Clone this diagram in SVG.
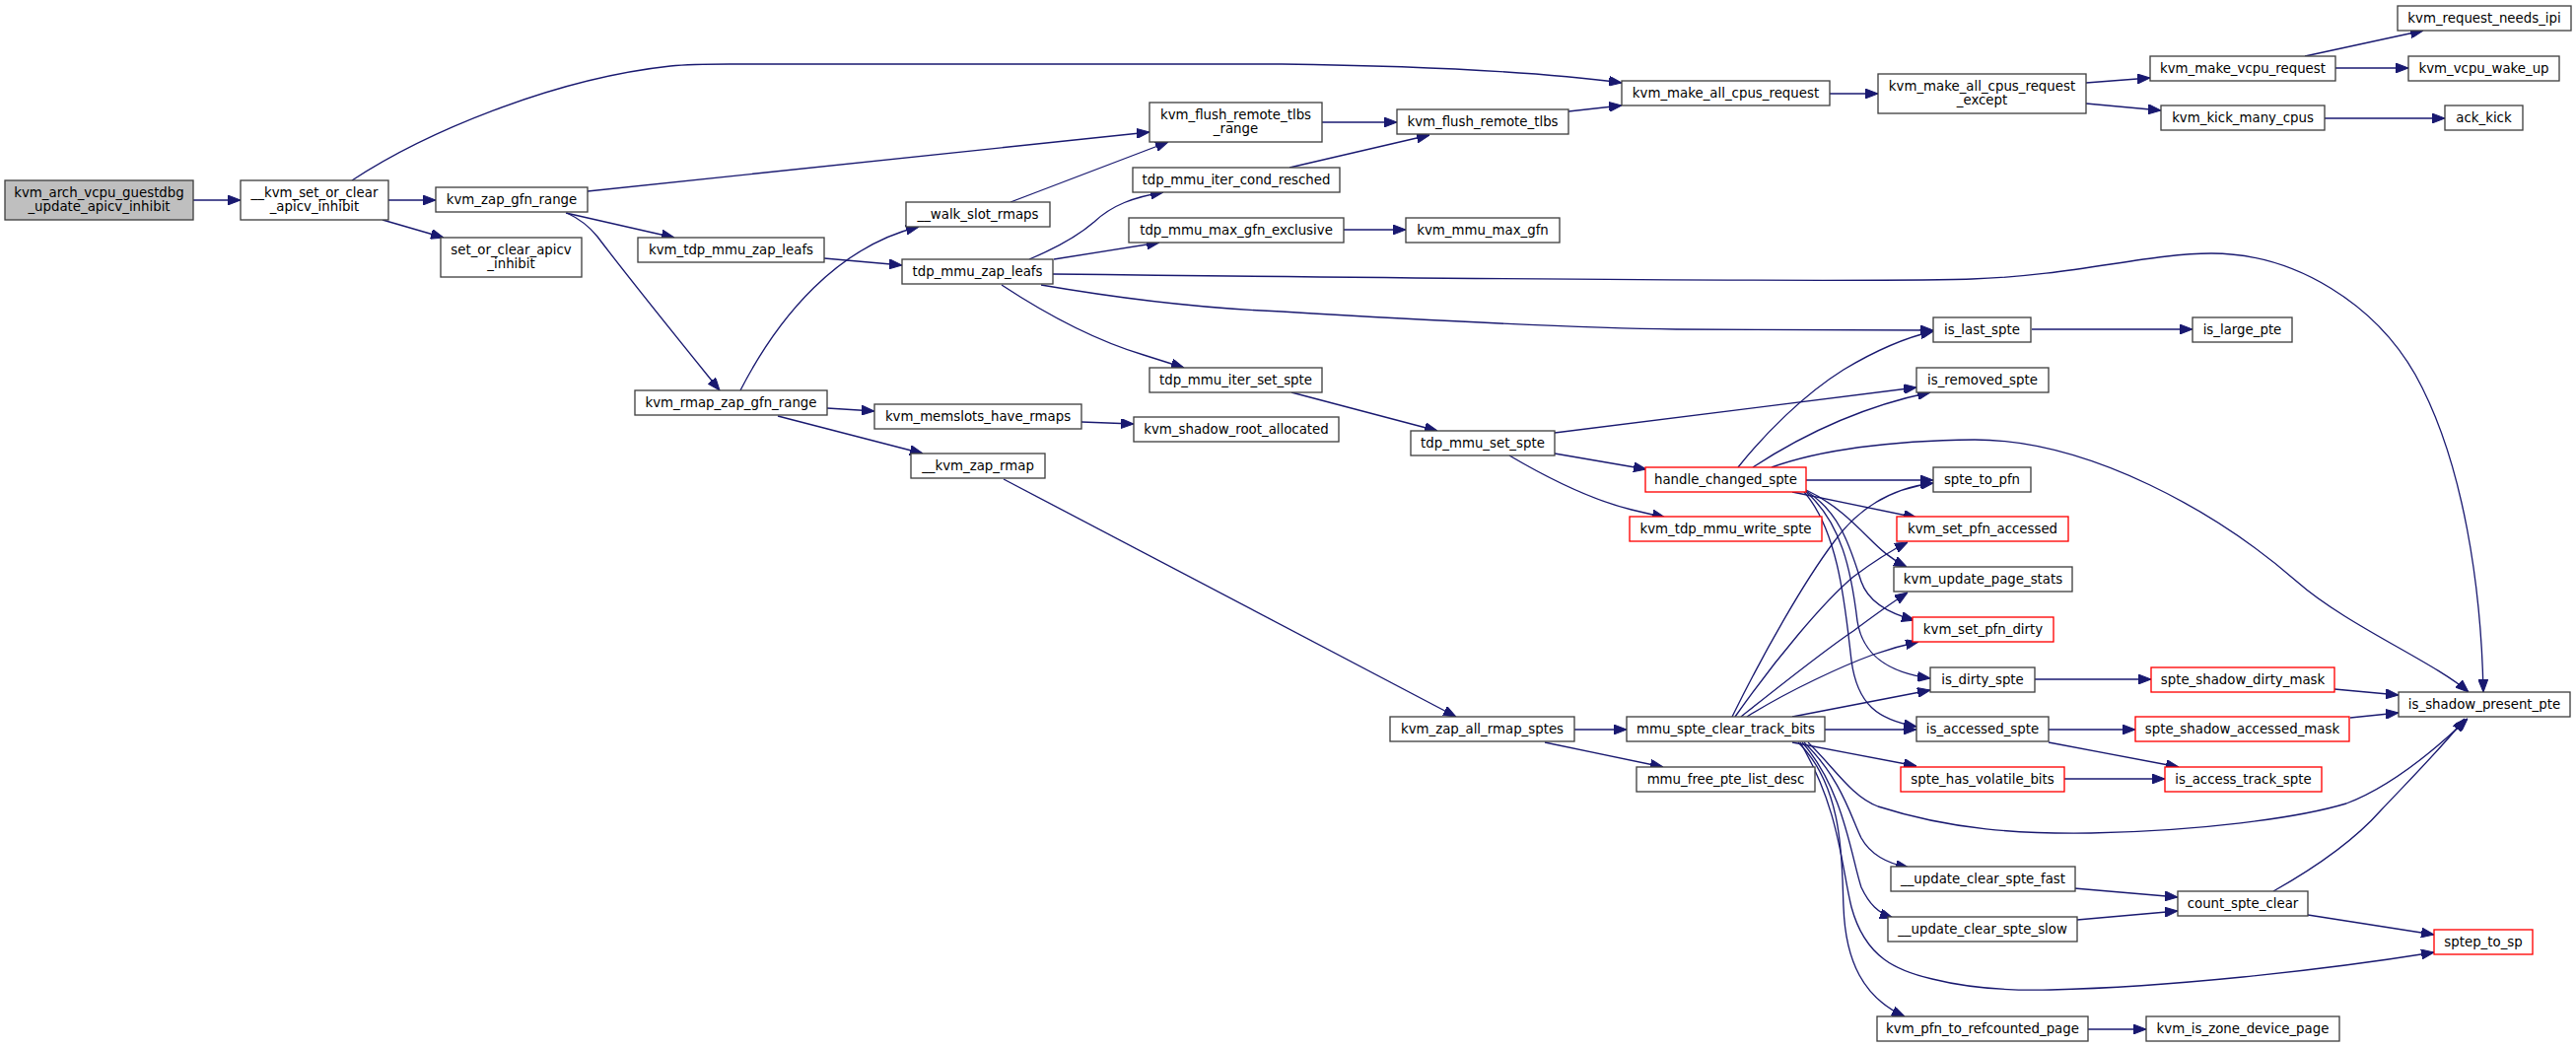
<svg xmlns="http://www.w3.org/2000/svg" width="2613" height="1063" viewBox="0 0 2613 1063">
<style>
.node rect{fill:#ffffff;stroke:#404040;stroke-width:1.33}
.node.red rect{stroke:#ff0000}
.node.root rect{fill:#bfbfbf}
.node text{font-family:"DejaVu Sans","Liberation Sans",sans-serif;font-size:13.33px;fill:#000;text-anchor:middle}
.edges path{fill:none;stroke:#191970;stroke-width:1.33;marker-end:url(#ah)}
</style>
<defs>
<marker id="ah" markerUnits="userSpaceOnUse" markerWidth="13" markerHeight="10" viewBox="0 0 13 10" refX="13" refY="5" orient="auto">
<path d="M0,0 L13,5 L0,10 z" fill="#191970" stroke="#191970" stroke-width="1"/>
</marker>
</defs>
<rect width="2613" height="1063" fill="#ffffff"/>
<g class="edges" id="edges">
<path d="M196,203 L244,203"/>
<path d="M357,183 C430,135 560,80 680,67 C700,65 720,65 740,65 L1300,65 C1450,67 1570,74 1645,84"/>
<path d="M394,203 L442,203"/>
<path d="M388,223 L450,241"/>
<path d="M596,194 L1166,134"/>
<path d="M574,216 L684,241"/>
<path d="M575,216 C588,222 598,230 606,240 C640,285 705,365 730,396"/>
<path d="M836,262 L915,269"/>
<path d="M751,396 C790,320 850,250 932,230"/>
<path d="M839,414 L887,417"/>
<path d="M789,422 L936,460"/>
<path d="M1025,205 L1185,144"/>
<path d="M1044,263 C1075,250 1095,238 1110,225 C1128,208 1150,200 1180,195"/>
<path d="M1069,263 L1176,246"/>
<path d="M1068,278 C1500,283 1900,286 2000,283 C2100,280 2180,257 2243,257 C2330,257 2410,310 2450,380 C2500,470 2517,600 2519,702"/>
<path d="M1056,289 C1120,300 1200,312 1300,316 C1450,325 1600,333 1700,334 L1961,335"/>
<path d="M1016,289 C1060,318 1110,345 1160,360 L1201,373"/>
<path d="M1097,428 L1150,430"/>
<path d="M1018,486 L1477,727"/>
<path d="M1341,124 L1417,124"/>
<path d="M1308,170 L1450,137"/>
<path d="M1363,233 L1426,233"/>
<path d="M1310,398 L1458,437"/>
<path d="M1591,113 L1645,107"/>
<path d="M1577,439 L1944,393"/>
<path d="M1577,460 L1670,476"/>
<path d="M1531,462 C1565,482 1610,506 1655,517 L1689,525"/>
<path d="M1856,95 L1905,95"/>
<path d="M1763,474 C1790,440 1830,400 1870,375 C1900,357 1930,343 1961,336"/>
<path d="M1778,474 C1830,440 1890,412 1958,398"/>
<path d="M1797,474 C1850,455 1920,447 2003,446 C2120,446 2250,520 2330,590 C2380,634 2470,672 2504,702"/>
<path d="M1832,487 L1961,487"/>
<path d="M1818,499 L1944,525"/>
<path d="M1832,497 C1860,510 1880,530 1895,545 C1908,558 1918,567 1934,575"/>
<path d="M1832,498 C1868,520 1878,560 1888,590 C1895,610 1915,622 1942,629"/>
<path d="M1832,499 C1868,530 1878,580 1884,630 C1890,668 1920,683 1958,688"/>
<path d="M1830,499 C1866,540 1872,620 1878,670 C1884,715 1905,730 1944,737"/>
<path d="M1757,727 C1790,660 1830,590 1860,550 C1885,515 1920,495 1961,490"/>
<path d="M1760,727 C1800,670 1850,610 1880,585 C1900,570 1915,560 1935,550"/>
<path d="M1766,727 C1800,700 1850,660 1880,640 C1900,625 1918,612 1935,601"/>
<path d="M1772,727 C1815,700 1870,675 1900,664 C1920,657 1932,654 1946,651"/>
<path d="M1818,727 L1958,700"/>
<path d="M1851,740 L1944,740"/>
<path d="M1818,753 L1944,777"/>
<path d="M1834,753 C1860,778 1878,808 1905,818 C1980,842 2050,846 2121,845 C2230,843 2330,830 2380,815 C2420,800 2460,770 2503,729"/>
<path d="M1830,753 C1868,790 1878,830 1888,850 C1898,868 1915,876 1936,880"/>
<path d="M1828,753 C1870,800 1878,870 1888,900 C1896,917 1905,926 1920,931"/>
<path d="M1826,753 C1866,820 1868,880 1878,920 C1892,972 1925,985 1960,993 C2000,1003 2040,1005 2080,1004 C2200,1001 2350,985 2469,966"/>
<path d="M1824,753 C1872,800 1868,880 1870,920 C1872,975 1890,1012 1932,1031"/>
<path d="M2078,740 L2166,740"/>
<path d="M2078,753 L2210,778"/>
<path d="M2094,790 L2196,790"/>
<path d="M2384,728 L2433,723"/>
<path d="M2368,699 L2433,705"/>
<path d="M2064,689 L2182,689"/>
<path d="M2104,901 L2209,910"/>
<path d="M2107,933 L2209,924"/>
<path d="M2341,928 L2469,948"/>
<path d="M2306,904 C2345,882 2385,856 2415,822 C2450,785 2480,755 2500,729"/>
<path d="M2118,1044 L2177,1044"/>
<path d="M1597,740 L1650,740"/>
<path d="M1567,753 L1687,778"/>
<path d="M2116,84 L2181,79"/>
<path d="M2116,105 L2192,112"/>
<path d="M2338,57 L2458,31"/>
<path d="M2369,69 L2443,69"/>
<path d="M2358,120 L2480,120"/>
<path d="M2061,334 L2224,334"/>
</g>
<g id="n1" class="node root"><rect x="5" y="183" width="191" height="40"/><text x="100.5" y="199.5">kvm_arch_vcpu_guestdbg</text><text x="100.5" y="213.5">_update_apicv_inhibit</text></g>
<g id="n2" class="node"><rect x="244" y="183" width="150" height="40"/><text x="319" y="199.5">__kvm_set_or_clear</text><text x="319" y="213.5">_apicv_inhibit</text></g>
<g id="n3" class="node"><rect x="442" y="190" width="154" height="25"/><text x="519" y="207">kvm_zap_gfn_range</text></g>
<g id="n4" class="node"><rect x="447" y="241" width="143" height="40"/><text x="518.5" y="257.5">set_or_clear_apicv</text><text x="518.5" y="271.5">_inhibit</text></g>
<g id="n5" class="node"><rect x="647" y="241" width="189" height="25"/><text x="741.5" y="258">kvm_tdp_mmu_zap_leafs</text></g>
<g id="n6" class="node"><rect x="644" y="396" width="195" height="25"/><text x="741.5" y="413">kvm_rmap_zap_gfn_range</text></g>
<g id="n7" class="node"><rect x="919" y="205" width="146" height="25"/><text x="992" y="222">__walk_slot_rmaps</text></g>
<g id="n8" class="node"><rect x="915" y="263" width="153" height="25"/><text x="991.5" y="280">tdp_mmu_zap_leafs</text></g>
<g id="n9" class="node"><rect x="887" y="410" width="210" height="25"/><text x="992" y="427">kvm_memslots_have_rmaps</text></g>
<g id="n10" class="node"><rect x="924" y="460" width="136" height="25"/><text x="992" y="477">__kvm_zap_rmap</text></g>
<g id="n11" class="node"><rect x="1166" y="104" width="175" height="40"/><text x="1253.5" y="120.5">kvm_flush_remote_tlbs</text><text x="1253.5" y="134.5">_range</text></g>
<g id="n12" class="node"><rect x="1149" y="170" width="210" height="25"/><text x="1254" y="187">tdp_mmu_iter_cond_resched</text></g>
<g id="n13" class="node"><rect x="1145" y="221" width="218" height="25"/><text x="1254" y="238">tdp_mmu_max_gfn_exclusive</text></g>
<g id="n14" class="node"><rect x="1166" y="373" width="175" height="25"/><text x="1253.5" y="390">tdp_mmu_iter_set_spte</text></g>
<g id="n15" class="node"><rect x="1150" y="423" width="208" height="25"/><text x="1254" y="440">kvm_shadow_root_allocated</text></g>
<g id="n16" class="node"><rect x="1417" y="111" width="174" height="25"/><text x="1504" y="128">kvm_flush_remote_tlbs</text></g>
<g id="n17" class="node"><rect x="1426" y="221" width="156" height="25"/><text x="1504" y="238">kvm_mmu_max_gfn</text></g>
<g id="n18" class="node"><rect x="1431" y="437" width="146" height="25"/><text x="1504" y="454">tdp_mmu_set_spte</text></g>
<g id="n19" class="node"><rect x="1410" y="727" width="187" height="25"/><text x="1503.5" y="744">kvm_zap_all_rmap_sptes</text></g>
<g id="n20" class="node"><rect x="1645" y="82" width="211" height="25"/><text x="1750.5" y="99">kvm_make_all_cpus_request</text></g>
<g id="n21" class="node red"><rect x="1669" y="474" width="163" height="25"/><text x="1750.5" y="491">handle_changed_spte</text></g>
<g id="n22" class="node red"><rect x="1653" y="524" width="195" height="25"/><text x="1750.5" y="541">kvm_tdp_mmu_write_spte</text></g>
<g id="n23" class="node"><rect x="1650" y="727" width="201" height="25"/><text x="1750.5" y="744">mmu_spte_clear_track_bits</text></g>
<g id="n24" class="node"><rect x="1660" y="778" width="181" height="25"/><text x="1750.5" y="795">mmu_free_pte_list_desc</text></g>
<g id="n25" class="node"><rect x="1905" y="75" width="211" height="40"/><text x="2010.5" y="91.5">kvm_make_all_cpus_request</text><text x="2010.5" y="105.5">_except</text></g>
<g id="n26" class="node"><rect x="1961" y="322" width="99" height="25"/><text x="2010.5" y="339">is_last_spte</text></g>
<g id="n27" class="node"><rect x="1944" y="373" width="134" height="25"/><text x="2011" y="390">is_removed_spte</text></g>
<g id="n28" class="node"><rect x="1961" y="474" width="99" height="25"/><text x="2010.5" y="491">spte_to_pfn</text></g>
<g id="n29" class="node red"><rect x="1924" y="524" width="174" height="25"/><text x="2011" y="541">kvm_set_pfn_accessed</text></g>
<g id="n30" class="node"><rect x="1921" y="575" width="181" height="25"/><text x="2011.5" y="592">kvm_update_page_stats</text></g>
<g id="n31" class="node red"><rect x="1940" y="626" width="143" height="25"/><text x="2011.5" y="643">kvm_set_pfn_dirty</text></g>
<g id="n32" class="node"><rect x="1958" y="677" width="106" height="25"/><text x="2011" y="694">is_dirty_spte</text></g>
<g id="n33" class="node"><rect x="1944" y="727" width="134" height="25"/><text x="2011" y="744">is_accessed_spte</text></g>
<g id="n34" class="node red"><rect x="1928" y="778" width="166" height="25"/><text x="2011" y="795">spte_has_volatile_bits</text></g>
<g id="n35" class="node"><rect x="1918" y="879" width="187" height="25"/><text x="2011.5" y="896">__update_clear_spte_fast</text></g>
<g id="n36" class="node"><rect x="1915" y="930" width="192" height="25"/><text x="2011" y="947">__update_clear_spte_slow</text></g>
<g id="n37" class="node"><rect x="1904" y="1031" width="214" height="25"/><text x="2011" y="1048">kvm_pfn_to_refcounted_page</text></g>
<g id="n38" class="node"><rect x="2181" y="57" width="188" height="25"/><text x="2275" y="74">kvm_make_vcpu_request</text></g>
<g id="n39" class="node"><rect x="2192" y="107" width="166" height="25"/><text x="2275" y="124">kvm_kick_many_cpus</text></g>
<g id="n40" class="node"><rect x="2224" y="322" width="101" height="25"/><text x="2274.5" y="339">is_large_pte</text></g>
<g id="n41" class="node red"><rect x="2182" y="677" width="186" height="25"/><text x="2275" y="694">spte_shadow_dirty_mask</text></g>
<g id="n42" class="node red"><rect x="2166" y="727" width="217" height="25"/><text x="2274.5" y="744">spte_shadow_accessed_mask</text></g>
<g id="n43" class="node red"><rect x="2196" y="778" width="159" height="25"/><text x="2275.5" y="795">is_access_track_spte</text></g>
<g id="n44" class="node"><rect x="2209" y="904" width="132" height="25"/><text x="2275" y="921">count_spte_clear</text></g>
<g id="n45" class="node"><rect x="2177" y="1031" width="196" height="25"/><text x="2275" y="1048">kvm_is_zone_device_page</text></g>
<g id="n46" class="node"><rect x="2432" y="6" width="176" height="25"/><text x="2520" y="23">kvm_request_needs_ipi</text></g>
<g id="n47" class="node"><rect x="2443" y="57" width="153" height="25"/><text x="2519.5" y="74">kvm_vcpu_wake_up</text></g>
<g id="n48" class="node"><rect x="2480" y="107" width="79" height="25"/><text x="2519.5" y="124">ack_kick</text></g>
<g id="n49" class="node"><rect x="2433" y="702" width="174" height="25"/><text x="2520" y="719">is_shadow_present_pte</text></g>
<g id="n50" class="node red"><rect x="2469" y="943" width="100" height="25"/><text x="2519" y="960">sptep_to_sp</text></g>
</svg>
